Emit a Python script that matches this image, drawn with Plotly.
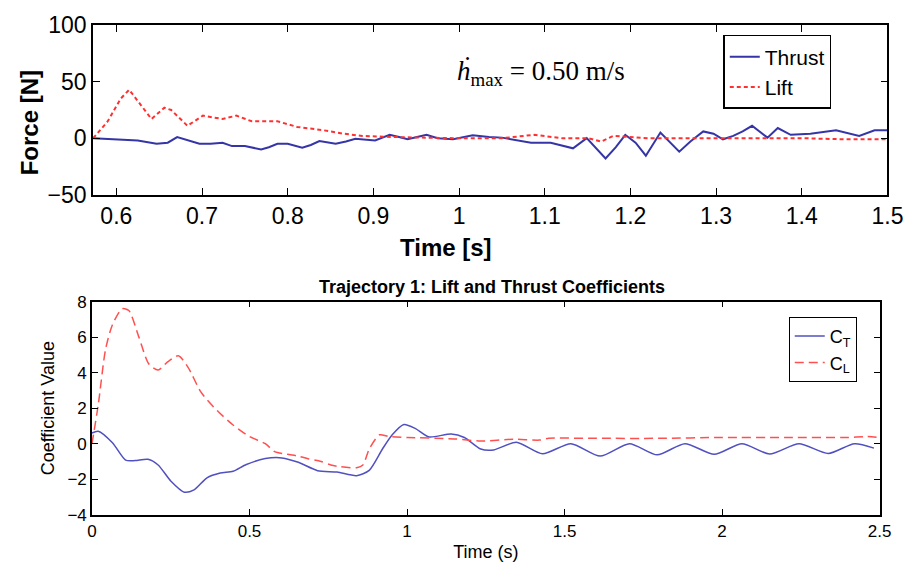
import plotly.graph_objects as go

# ---------------- Top panel data (Force vs Time) ----------------
thrust_t = [0.573, 0.604, 0.625, 0.647, 0.660, 0.671, 0.684, 0.697, 0.710, 0.724, 0.735, 0.750,
            0.769, 0.778, 0.788, 0.800, 0.817, 0.827, 0.837, 0.856, 0.868, 0.879, 0.902, 0.919,
            0.930, 0.940, 0.951, 0.962, 0.975, 0.993, 1.016, 1.035, 1.050, 1.070, 1.084, 1.107,
            1.133, 1.149, 1.171, 1.183, 1.194, 1.206, 1.218, 1.235, 1.257, 1.270, 1.285, 1.297,
            1.308, 1.320, 1.331, 1.342, 1.360, 1.372, 1.387, 1.410, 1.440, 1.467, 1.485, 1.500]
thrust = [0, -1, -2, -5, -4, 1, -2, -5, -5, -4, -7, -7,
          -10, -8, -5, -5, -8.5, -6, -2.5, -5, -3, -0.5, -2, 3,
          1, -1, 1, 3, 0, -1, 2.5, 1, 0.5, -2, -4, -4,
          -9, 0, -18, -8, 3, -4, -15.5, 5, -12, -3, 6, 4,
          -1, 2, 6, 11, 0.5, 9, 3, 4, 7, 2, 7, 7]

lift_t = [0.573, 0.590, 0.605, 0.615, 0.628, 0.641, 0.656, 0.664, 0.683, 0.701, 0.724, 0.740,
          0.758, 0.788, 0.811, 0.842, 0.865, 0.887, 0.925, 0.993, 1.050, 1.088, 1.120, 1.151,
          1.166, 1.180, 1.220, 1.300, 1.400, 1.450, 1.500]
lift = [0, 15, 35, 43, 30, 17, 27, 25, 11, 20, 17, 20,
        15, 15, 10, 7, 4, 2, 1, 0, 0, 3, 0, 0,
        -3, 2, 0, 0, 0, -1, -1]

top_xticks = [0.6, 0.7, 0.8, 0.9, 1.0, 1.1, 1.2, 1.3, 1.4, 1.5]
top_xticktext = ["0.6", "0.7", "0.8", "0.9", "1", "1.1", "1.2", "1.3", "1.4", "1.5"]
top_yticks = [-50, 0, 50, 100]

# ---------------- Bottom panel data (coefficients) ----------------
ct_t = [0, 0.02, 0.065, 0.107, 0.137, 0.178, 0.21, 0.25, 0.293, 0.324, 0.365, 0.407, 0.448,
        0.49, 0.55, 0.603, 0.655, 0.716, 0.778, 0.84, 0.88, 0.922, 0.953, 0.99, 1.027, 1.07,
        1.14, 1.182, 1.234, 1.275, 1.347, 1.43, 1.52, 1.613, 1.706, 1.794, 1.882, 1.975,
        2.063, 2.151, 2.244, 2.337, 2.42, 2.482]
ct = [0.6, 0.7, 0.05, -0.93, -0.95, -0.88, -1.2, -2.1, -2.73, -2.6, -1.92, -1.65, -1.55,
      -1.17, -0.84, -0.8, -1.05, -1.52, -1.6, -1.8, -1.5, -0.3, 0.5, 1.08, 0.85, 0.38,
      0.55, 0.35, -0.3, -0.35, 0.08, -0.57, 0, -0.7, 0, -0.63, 0, -0.6,
      0, -0.58, 0, -0.55, 0, -0.25]

cl_t = [0, 0.02, 0.043, 0.065, 0.096, 0.117, 0.149, 0.18, 0.21, 0.24, 0.274, 0.305, 0.346,
        0.398, 0.448, 0.5, 0.55, 0.58, 0.62, 0.655, 0.686, 0.727, 0.758, 0.79, 0.84, 0.86,
        0.88, 0.913, 0.943, 1.0, 1.15, 1.234, 1.337, 1.42, 1.45, 1.6, 1.8, 2.0, 2.2, 2.4,
        2.46, 2.5]
cl = [0, 2.2, 5.3, 6.7, 7.6, 7.5, 6.0, 4.5, 4.15, 4.6, 4.95, 4.3, 2.9,
      1.85, 1.05, 0.4, 0, -0.45, -0.6, -0.7, -0.85, -1.0, -1.2, -1.3, -1.35, -1.2,
      -0.3, 0.5, 0.4, 0.35, 0.27, 0.15, 0.25, 0.2, 0.3, 0.3, 0.3, 0.35, 0.35, 0.35,
      0.4, 0.35]

bot_xticks = [0, 0.5, 1, 1.5, 2, 2.5]
bot_xticktext = ["0", "0.5", "1", "1.5", "2", "2.5"]
bot_yticks = [-4, -2, 0, 2, 4, 6, 8]

W, H = 923, 586
SANS = "Liberation Sans, Arial, sans-serif"

fig = go.Figure()

fig.add_trace(go.Scatter(x=thrust_t, y=thrust, mode="lines", name="Thrust",
                         line=dict(color="#3535a8", width=2), xaxis="x", yaxis="y",
                         legend="legend"))
fig.add_trace(go.Scatter(x=lift_t, y=lift, mode="lines", name="Lift",
                         line=dict(color="#ff3030", width=2, dash="4px,3px"),
                         xaxis="x", yaxis="y", legend="legend"))

fig.add_trace(go.Scatter(x=ct_t, y=ct, mode="lines", name="C<sub>T</sub>",
                         line=dict(color="#5050c0", width=1.5, shape="spline", smoothing=0.7),
                         xaxis="x2", yaxis="y2", legend="legend2"))
fig.add_trace(go.Scatter(x=cl_t, y=cl, mode="lines", name="C<sub>L</sub>",
                         line=dict(color="#ff5050", width=1.5, dash="9px,5px",
                                   shape="spline", smoothing=0.7),
                         xaxis="x2", yaxis="y2", legend="legend2"))

def px_x(p):
    return p / W

def px_y(p):
    return 1 - p / H

axis_common = dict(showline=True, linecolor="black", linewidth=1.5, mirror="ticks",
                   ticks="inside", showgrid=False, zeroline=False, tickcolor="black")

fig.update_layout(
    width=W, height=H,
    margin=dict(l=0, r=0, t=0, b=0),
    paper_bgcolor="white", plot_bgcolor="white",
    font=dict(family=SANS, color="black"),
    xaxis=dict(domain=[px_x(90), px_x(903)], range=[0.5727, 1.5], anchor="y",
               tickvals=top_xticks, ticktext=top_xticktext, ticklen=7,
               tickfont=dict(size=23), **axis_common),
    yaxis=dict(domain=[px_y(190), px_y(13)], range=[-50, 100], anchor="x",
               tickvals=top_yticks, ticklen=7, tickfont=dict(size=23), **axis_common),
    xaxis2=dict(domain=[px_x(89), px_x(895)], range=[0, 2.5], anchor="y2",
                tickvals=bot_xticks, ticktext=bot_xticktext, ticklen=6,
                tickfont=dict(size=17),
                title=dict(text="Time (s)", font=dict(size=18), standoff=6),
                **axis_common),
    yaxis2=dict(domain=[px_y(525), px_y(302)], range=[-4, 8], anchor="x2",
                tickvals=bot_yticks, ticklen=6, tickfont=dict(size=17),
                title=dict(text="Coefficient Value", font=dict(size=18), standoff=8),
                **axis_common),
    title=dict(text="<b>Trajectory 1: Lift and Thrust Coefficients</b>",
               x=px_x(492), xanchor="center", y=px_y(287), yanchor="middle",
               font=dict(size=18, family=SANS)),
    legend=dict(x=px_x(735), y=px_y(23), xanchor="left", yanchor="top",
                bordercolor="black", borderwidth=1.5, bgcolor="white",
                font=dict(size=21), tracegroupgap=0, entrywidth=100,
                entrywidthmode="pixels"),
    legend2=dict(x=px_x(802), y=px_y(318), xanchor="left", yanchor="top",
                 bordercolor="black", borderwidth=1, bgcolor="white",
                 font=dict(size=18), tracegroupgap=0),
    showlegend=True,
)

fig.add_annotation(text="<b>Time [s]</b>", x=px_x(451), y=px_y(245), xref="paper",
                   yref="paper", xanchor="center", yanchor="middle", showarrow=False,
                   font=dict(size=24, family=SANS))
fig.add_annotation(text="<b>Force [N]</b>", x=px_x(25), y=px_y(115), xref="paper",
                   yref="paper", xanchor="center", yanchor="middle", showarrow=False,
                   textangle=-90, font=dict(size=24, family=SANS))
fig.add_annotation(text="<i>ḣ</i><sub>max</sub> = 0.50 m/s", x=px_x(548), y=px_y(63),
                   xref="paper", yref="paper", xanchor="center", yanchor="middle",
                   showarrow=False,
                   font=dict(size=27, family="Liberation Serif, Times New Roman, serif"))

fig.write_html("out.html")
